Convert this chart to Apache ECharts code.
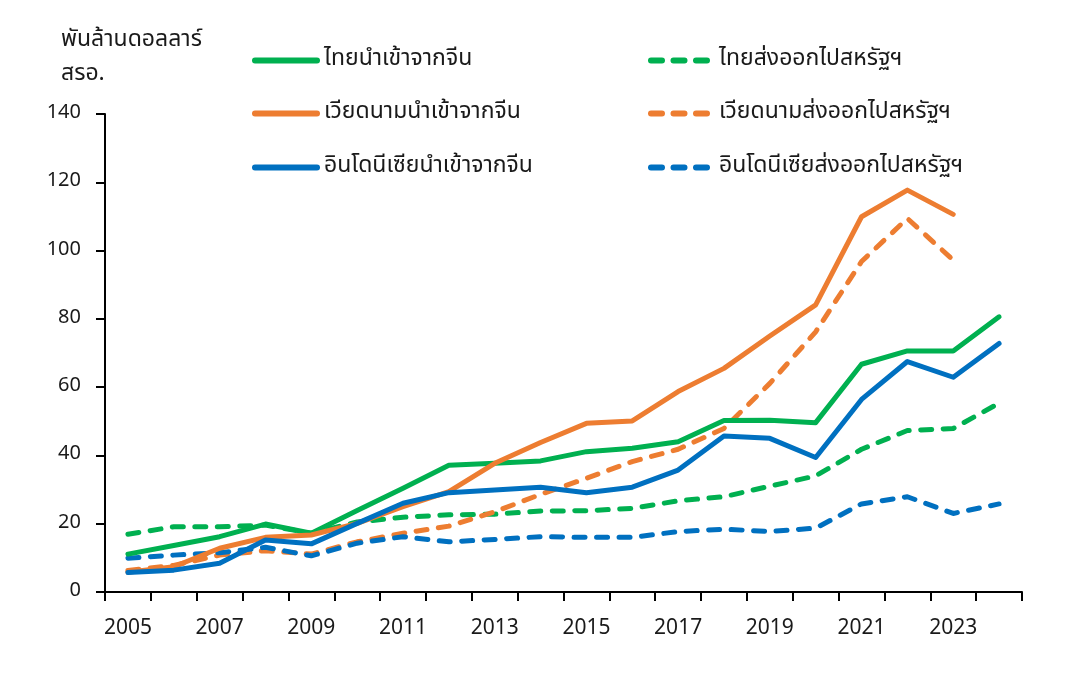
<!DOCTYPE html>
<html>
<head>
<meta charset="utf-8">
<script src="https://cdn.jsdelivr.net/npm/echarts@6/dist/echarts.min.js"></script>
<style>
html,body{margin:0;padding:0;background:#fff;}
#chart{width:1073px;height:679px;}
</style>
</head>
<body>
<div id="chart"></div>
<script>
const years = ['2005','2006','2007','2008','2009','2010','2011','2012','2013','2014','2015','2016','2017','2018','2019','2020','2021','2022','2023','2024'];
const yTicks = [0, 20, 40, 60, 80, 100, 120, 140];
const thImport = [11.1, 13.6, 16.2, 19.9, 17.2, 23.9, 30.4, 37.1, 37.7, 38.4, 41.1, 42.1, 44.0, 50.2, 50.3, 49.6, 66.7, 70.6, 70.6, 80.6];
const vnImport = [5.8, 7.4, 12.8, 16.0, 16.7, 20.1, 25.0, 29.4, 37.7, 43.8, 49.4, 50.1, 58.7, 65.5, 75.0, 84.1, 109.9, 117.7, 110.6, null];
const idImport = [5.7, 6.4, 8.4, 15.2, 14.1, 20.1, 26.0, 29.1, 29.9, 30.7, 29.1, 30.7, 35.7, 45.7, 45.0, 39.4, 56.4, 67.5, 62.9, 72.8];
const thExport = [16.9, 19.1, 19.1, 19.6, 17.2, 20.5, 21.9, 22.6, 22.8, 23.7, 23.8, 24.5, 26.7, 27.9, 31.0, 34.0, 41.8, 47.3, 47.9, 55.3];
const vnExport = [6.3, 7.8, 10.8, 12.1, 11.1, 14.7, 17.2, 19.3, 23.5, 28.6, 33.3, 38.2, 41.8, 47.9, 61.1, 76.2, 96.8, 109.4, 97.2, null];
const idExport = [9.9, 10.8, 11.5, 13.1, 10.6, 14.3, 16.2, 14.7, 15.4, 16.2, 16.0, 16.0, 17.7, 18.4, 17.7, 18.7, 25.8, 27.9, 23.0, 25.8];
const names = {
  thImp: 'ไทยนำเข้าจากจีน',
  vnImp: 'เวียดนามนำเข้าจากจีน',
  idImp: 'อินโดนีเซียนำเข้าจากจีน',
  thExp: 'ไทยส่งออกไปสหรัฐฯ',
  vnExp: 'เวียดนามส่งออกไปสหรัฐฯ',
  idExp: 'อินโดนีเซียส่งออกไปสหรัฐฯ'
};
const unitLines = ['พันล้านดอลลาร์', 'สรอ.'];

const GREEN = '#00B050', ORANGE = '#ED7D31', BLUE = '#0070C0';
const FONT = '"Noto Sans Thai", "Noto Sans Thai UI", "Noto Sans", sans-serif';
const DASH = [11, 11.5];

function mkSeries(name, data, color, dashed) {
  return {
    name: name, type: 'line', data: data, symbol: 'none', connectNulls: false,
    lineStyle: { color: color, width: 5, type: dashed ? DASH : 'solid', cap: 'round', join: 'round' },
    itemStyle: { color: color },
    emphasis: { disabled: true }
  };
}
function mkLegend(name, left, top, w, color, dashed) {
  return {
    data: [name], left: left, top: top, padding: 0, itemWidth: w, itemHeight: 23,
    itemGap: 0,
    textStyle: { fontFamily: FONT, fontSize: 23, color: '#1a1a1a', lineHeight: 23, padding: [0, 0, 0, dashed ? 6 : 2] },
    lineStyle: { color: color, width: 6, type: dashed ? DASH : 'solid', cap: 'round' },
    itemStyle: { opacity: 0 },
    selectedMode: false
  };
}

const chart = echarts.init(document.getElementById('chart'));
chart.setOption({
  animation: false,
  textStyle: { fontFamily: FONT },
  grid: { left: 105, right: 51, top: 114, bottom: 87, containLabel: false },
  graphic: [
    { type: 'text', left: 61, top: 30, style: { text: unitLines[0], font: '23px ' + FONT, fill: '#1a1a1a' } },
    { type: 'text', left: 61, top: 64, style: { text: unitLines[1], font: '23px ' + FONT, fill: '#1a1a1a' } }
  ],
  legend: [
    mkLegend(names.thImp, 252, 49, 62, GREEN, false),
    mkLegend(names.vnImp, 252, 102, 62, ORANGE, false),
    mkLegend(names.idImp, 252, 156, 62, BLUE, false),
    mkLegend(names.thExp, 648, 49, 57, GREEN, true),
    mkLegend(names.vnExp, 648, 102, 57, ORANGE, true),
    mkLegend(names.idExp, 648, 156, 57, BLUE, true)
  ],
  xAxis: {
    type: 'category', data: years, boundaryGap: true,
    axisLine: { lineStyle: { color: '#000', width: 2 } },
    axisTick: { show: true, interval: 0, length: 9, lineStyle: { color: '#000', width: 2 } },
    axisLabel: { interval: 1, margin: 27, fontSize: 21, color: '#1a1a1a', fontFamily: FONT },
    splitLine: { show: false }
  },
  yAxis: {
    type: 'value', min: yTicks[0], max: yTicks[yTicks.length - 1], interval: 20,
    axisLine: { show: true, lineStyle: { color: '#000', width: 2 } },
    axisTick: { show: true, length: 9, lineStyle: { color: '#000', width: 2 } },
    axisLabel: { margin: 24, fontSize: 20, color: '#1a1a1a', fontFamily: FONT },
    splitLine: { show: false }
  },
  series: [
    mkSeries(names.thExp, thExport, GREEN, true),
    mkSeries(names.vnExp, vnExport, ORANGE, true),
    mkSeries(names.idExp, idExport, BLUE, true),
    mkSeries(names.thImp, thImport, GREEN, false),
    mkSeries(names.vnImp, vnImport, ORANGE, false),
    mkSeries(names.idImp, idImport, BLUE, false)
  ]
});
</script>
</body>
</html>
